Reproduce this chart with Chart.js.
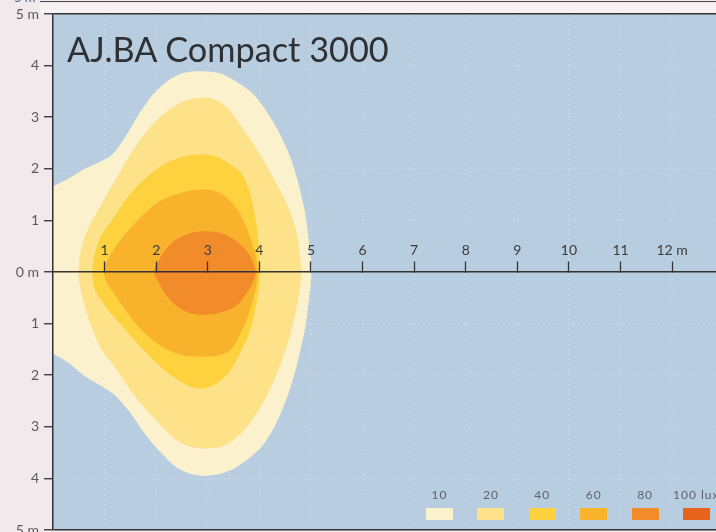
<!DOCTYPE html>
<html>
<head>
<meta charset="utf-8">
<script src="https://cdn.jsdelivr.net/npm/chart.js@4.4.1/dist/chart.umd.min.js"></script>
<style>
html,body{margin:0;padding:0;background:#f1e9eb;}
#wrap{position:relative;width:716px;height:532px;overflow:hidden;background:#f1e9eb;font-family:Lato,"Open Sans",sans-serif;}
#c{position:absolute;left:0;top:0;}
#title{position:absolute;left:67px;top:28px;font-size:34.3px;line-height:normal;color:#2f3033;white-space:nowrap;}
#prevline{position:absolute;left:40px;top:1px;width:676px;height:0;border-top:1.5px solid #4a4a4a;}
#prevlbl{position:absolute;left:14px;top:-11px;font-size:13px;color:#666;}
#topstrip{position:absolute;left:40px;top:3px;width:676px;height:11px;background:#f6f1f2;}
.lgl{position:absolute;top:488px;font-size:12px;line-height:14px;color:#5d636a;letter-spacing:1px;white-space:nowrap;}
.lgb{position:absolute;top:508px;width:27px;height:12px;}
</style>
</head>
<body>
<div id="wrap">
  <div id="topstrip"></div>
  <div id="prevline"></div>
  <div id="prevlbl">5 m</div>
  <canvas id="c" width="716" height="532"></canvas>
  <div id="title">AJ.BA Compact 3000</div>
  <div id="legend"></div>
</div>
<script>
// ---- data (metres) ----
const xTickLabels = ['', '1', '2', '3', '4', '5', '6', '7', '8', '9', '10', '11', '12 m'];
const yTickLabels = ['5 m', '4', '3', '2', '1', '0 m', '1', '2', '3', '4', '5 m']; // for values -5..5
const luxLevels = ['10', '20', '40', '60', '80', '100 lux'];
const luxColors = ['#fbf1cd', '#fde28a', '#fdd23e', '#f9b22c', '#f28b2a', '#e6631e'];

const contour10Upper = [[0,1.65],[0.3,1.8],[0.6,1.98],[0.9,2.12],[1.15,2.27],[1.4,2.6],[1.7,3.1],[2.0,3.5],[2.4,3.8],[2.8,3.88],[3.2,3.85],[3.6,3.65],[3.9,3.42],[4.2,3.0],[4.45,2.55],[4.65,2.05],[4.8,1.5],[4.9,1.0],[4.96,0.5],[4.99,0.2],[5.0,0]];
const contour10Lower = [[0,-1.57],[0.3,-1.75],[0.6,-2.0],[0.9,-2.18],[1.2,-2.38],[1.5,-2.72],[1.8,-3.15],[2.1,-3.5],[2.4,-3.78],[2.9,-3.94],[3.4,-3.85],[3.8,-3.6],[4.1,-3.3],[4.4,-2.75],[4.65,-2.05],[4.8,-1.45],[4.9,-0.95],[4.96,-0.45],[4.99,-0.2],[5.0,0]];
const contour20Upper = [[0.5,0],[0.51,0.15],[0.53,0.3],[0.6,0.6],[0.72,0.9],[0.92,1.26],[1.25,1.84],[1.56,2.36],[2.0,2.92],[2.47,3.27],[2.95,3.37],[3.35,3.2],[3.65,2.8],[4.05,2.2],[4.3,1.75],[4.55,1.25],[4.7,0.8],[4.77,0.4],[4.795,0.15],[4.8,0]];
const contour20Lower = [[0.5,0],[0.51,-0.15],[0.53,-0.25],[0.57,-0.45],[0.73,-0.99],[0.92,-1.45],[1.25,-1.9],[1.56,-2.36],[1.95,-2.81],[2.41,-3.26],[2.92,-3.41],[3.44,-3.29],[3.89,-2.81],[4.28,-2.09],[4.54,-1.38],[4.7,-0.75],[4.77,-0.35],[4.795,-0.15],[4.8,0]];
const contour40Upper = [[0.77,0],[0.78,0.12],[0.8,0.25],[0.88,0.55],[1.15,1.0],[1.5,1.5],[1.9,1.9],[2.3,2.15],[2.9,2.27],[3.4,2.1],[3.77,1.65],[3.92,1.0],[3.98,0.5],[3.995,0.2],[4.0,0]];
const contour40Lower = [[0.77,0],[0.78,-0.12],[0.8,-0.25],[0.95,-0.55],[1.45,-1.16],[1.85,-1.6],[2.3,-2.0],[2.85,-2.25],[3.35,-2.0],[3.65,-1.5],[3.85,-1.0],[3.95,-0.5],[3.99,-0.2],[4.0,0]];
const contour60Upper = [[1.0,0],[1.01,0.1],[1.05,0.2],[1.15,0.38],[1.4,0.72],[1.7,1.05],[2.0,1.32],[2.4,1.5],[2.9,1.59],[3.3,1.48],[3.6,1.15],[3.8,0.7],[3.92,0.3],[3.95,0.12],[3.96,0]];
const contour60Lower = [[1.0,0],[1.01,-0.1],[1.05,-0.2],[1.25,-0.5],[1.76,-1.16],[2.34,-1.55],[2.85,-1.63],[3.38,-1.55],[3.64,-1.16],[3.85,-0.6],[3.93,-0.25],[3.95,-0.1],[3.96,0]];
const contour80Upper = [[1.97,0],[1.98,0.08],[2.02,0.15],[2.1,0.3],[2.3,0.55],[2.6,0.72],[2.92,0.78],[3.3,0.73],[3.6,0.55],[3.8,0.32],[3.88,0.15],[3.91,0.06],[3.92,0]];
const contour80Lower = [[1.97,0],[1.98,-0.07],[2.02,-0.12],[2.08,-0.25],[2.24,-0.5],[2.5,-0.72],[2.9,-0.82],[3.3,-0.76],[3.6,-0.6],[3.75,-0.4],[3.87,-0.18],[3.91,-0.06],[3.92,0]];

// ---- build datasets (innermost first so it is drawn on top) ----
const contours = [
  [contour80Upper, contour80Lower, luxColors[4]],
  [contour60Upper, contour60Lower, luxColors[3]],
  [contour40Upper, contour40Lower, luxColors[2]],
  [contour20Upper, contour20Lower, luxColors[1]],
  [contour10Upper, contour10Lower, luxColors[0]]
];
const toPts = arr => arr.map(p => ({x: p[0], y: p[1]}));
const datasets = [];
contours.forEach(([up, lo, col]) => {
  const common = {showLine: true, pointRadius: 0, borderWidth: 1, borderColor: col, backgroundColor: col, cubicInterpolationMode: 'monotone'};
  datasets.push(Object.assign({data: toPts(up), fill: '+1'}, common));
  datasets.push(Object.assign({data: toPts(lo), fill: false}, common));
});

const plotBg = {
  id: 'plotBg',
  beforeDraw(ch) {
    const {ctx, chartArea: a} = ch;
    ctx.save();
    ctx.fillStyle = '#b8cee0';
    ctx.fillRect(a.left, a.top, a.right - a.left, a.bottom - a.top);
    ctx.restore();
  }
};

Chart.defaults.font.family = 'Lato, "Open Sans", sans-serif';

new Chart(document.getElementById('c'), {
  type: 'scatter',
  data: {datasets},
  plugins: [plotBg],
  options: {
    responsive: false,
    animation: false,
    events: [],
    layout: {padding: {top: 14, bottom: 2, left: 0, right: 0}},
    plugins: {legend: {display: false}, tooltip: {enabled: false}},
    scales: {
      // faint dotted vertical grid, drawn below the contours
      xGrid: {
        type: 'linear', axis: 'x', position: {y: 0}, min: 0, max: 12.85,
        afterFit(s) { s.paddingLeft = 0; s.paddingRight = 0; },
        ticks: {display: false, stepSize: 1, includeBounds: false},
        grid: {
          color: c => (c.tick && c.tick.value > 0 ? 'rgba(255,255,255,0.3)' : 'rgba(0,0,0,0)'),
          lineWidth: 1.5, drawTicks: false
        },
        border: {display: false, dash: [1, 4]}
      },
      // the metre axis along the beam centre, drawn on top of the contours
      x: {
        type: 'linear', axis: 'x', position: {y: 0}, min: 0, max: 12.85,
        afterFit(s) { s.paddingLeft = 0; s.paddingRight = 0; },
        ticks: {z: 2, stepSize: 1, includeBounds: false, autoSkip: false, maxRotation: 0, padding: -19, color: '#3b3b3b', font: {size: 14},
                callback: v => (xTickLabels[v] !== undefined ? xTickLabels[v] : '')},
        grid: {
          z: 2, drawOnChartArea: false, tickLength: -11,
          tickColor: c => (c.tick && c.tick.value > 0 ? '#333' : 'rgba(0,0,0,0)'), tickWidth: 1.3
        },
        border: {z: 2, display: true, color: '#333', width: 1.5}
      },
      y: {
        type: 'linear', position: 'left', min: -5, max: 5,
        afterFit(s) { s.width = 53; s.paddingTop = 0; s.paddingBottom = 0; },
        ticks: {stepSize: 1, autoSkip: false, padding: 5, color: '#5a5a5a', font: {size: 14},
                callback: v => yTickLabels[Math.round(v) + 5]},
        grid: {
          color: c => {
            const v = c.tick ? c.tick.value : null;
            if (v === 5 || v === -5) return '#333';
            if (v === 0) return 'rgba(0,0,0,0)';
            return 'rgba(255,255,255,0.3)';
          },
          lineWidth: 1.5,
          tickLength: 9, tickColor: '#333', tickWidth: 1.3
        },
        border: {z: 2, display: true, color: '#333', width: 1.5,
                 dash: c => (c.tick && Math.abs(c.tick.value) === 5 ? [] : [1, 4])}
      }
    }
  }
});

// ---- legend (HTML) ----
const lg = document.getElementById('legend');
luxLevels.forEach((lab, i) => {
  const left = 426 + i * 51.4;
  const b = document.createElement('div');
  b.className = 'lgb';
  b.style.left = left + 'px';
  b.style.background = luxColors[i];
  lg.appendChild(b);
  const t = document.createElement('div');
  t.className = 'lgl';
  t.textContent = lab;
  if (i < luxLevels.length - 1) {
    t.style.left = (left + 13.5) + 'px';
    t.style.transform = 'translateX(-50%)';
  } else {
    t.style.left = (left - 10) + 'px';
  }
  lg.appendChild(t);
});
</script>
</body>
</html>
